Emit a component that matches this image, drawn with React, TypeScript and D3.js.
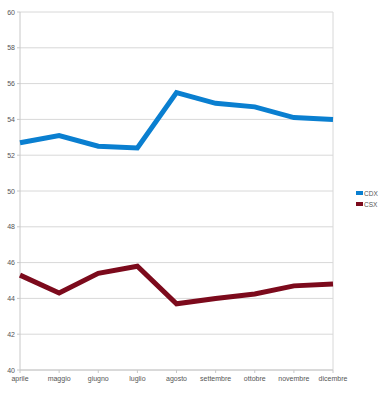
import React from "react";
import * as d3 from "d3";

const months = ["aprile", "maggio", "giugno", "luglio", "agosto", "settembre", "ottobre", "novembre", "dicembre"];
const cdx = [52.7, 53.1, 52.5, 52.4, 55.5, 54.9, 54.7, 54.1, 54.0];
const csx = [45.3, 44.3, 45.4, 45.8, 43.7, 44.0, 44.25, 44.7, 44.8];
const yTicks = [40, 42, 44, 46, 48, 50, 52, 54, 56, 58, 60];
const seriesNames = ["CDX", "CSX"];
const seriesColors = ["#0a7fd0", "#7c0a1c"];

export default function App() {
  const W = 385, H = 400;
  const left = 20, right = 333, top = 12, bottom = 370;
  const x = d3.scalePoint<string>().domain(months).range([left, right]);
  const y = d3.scaleLinear().domain([40, 60]).range([bottom, top]);
  const line = d3.line<number>().x((_, i) => x(months[i])!).y((d) => y(d));
  const all = [cdx, csx];
  const font = "Arial, 'Liberation Sans', sans-serif";
  return (
    <svg width={W} height={H} style={{ position: "absolute", left: 0, top: 0 }}>
      <rect width={W} height={H} fill="#fff" />
      {yTicks.map((t) => (
        <g key={t}>
          <line x1={left} x2={right} y1={y(t)} y2={y(t)} stroke="#d8d8d8" strokeWidth={1} />
          <line x1={left - 3} x2={left} y1={y(t)} y2={y(t)} stroke="#c8c8c8" />
          <text x={left - 5} y={y(t) + 2.5} fontSize={7} textAnchor="end" fill="#555" fontFamily={font}>{t}</text>
        </g>
      ))}
      <line x1={left} x2={left} y1={top} y2={bottom} stroke="#c8c8c8" />
      <line x1={right} x2={right} y1={top} y2={bottom} stroke="#d8d8d8" />
      <line x1={left} x2={right} y1={bottom} y2={bottom} stroke="#c8c8c8" />
      {months.map((m) => (
        <g key={m}>
          <line x1={x(m)!} x2={x(m)!} y1={bottom} y2={bottom + 3} stroke="#c8c8c8" />
          <text x={x(m)!} y={bottom + 11} fontSize={7} textAnchor="middle" fill="#555" fontFamily={font}>{m}</text>
        </g>
      ))}
      {all.map((s, i) => (
        <path key={i} d={line(s)!} fill="none" stroke={seriesColors[i]} strokeWidth={5} strokeLinejoin="miter" />
      ))}
      {seriesNames.map((n, i) => (
        <g key={n}>
          <rect x={356} y={191 + i * 11} width={7} height={4} fill={seriesColors[i]} />
          <text x={364} y={196 + i * 11} fontSize={6.5} fill="#555" fontFamily={font}>{n}</text>
        </g>
      ))}
    </svg>
  );
}
